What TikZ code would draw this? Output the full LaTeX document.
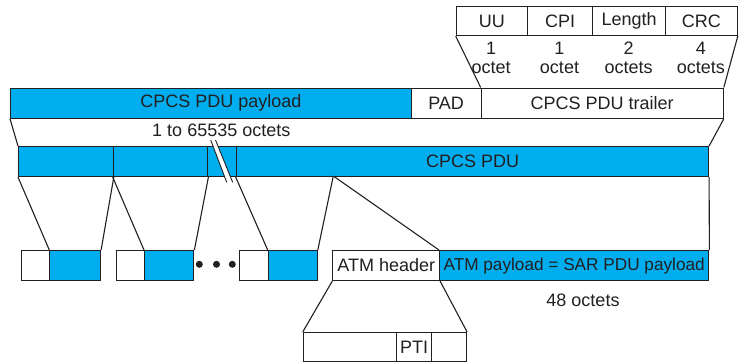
\documentclass[tikz,border=0pt]{standalone}
\usepackage{fontspec}
\setmainfont{Liberation Sans}
\definecolor{ink}{HTML}{231F20}
\definecolor{cpcs}{HTML}{00AEEF}
\tikzset{
  fld/.style={draw=ink, line width=1.1pt, inner sep=0pt, anchor=north west, text=ink},
  blu/.style={fld, fill=cpcs},
  wht/.style={fld, fill=white},
  lbl/.style={text=ink, inner sep=0pt},
  link/.style={draw=ink, line width=1.1pt},
  dot/.style={circle, fill=ink, inner sep=0pt, minimum size=7pt}
}
\newcommand{\fieldbox}[6]{% style, name, x, y, width, height
  \node[#1, minimum width=#5pt, minimum height=#6pt] (#2) at (#3,#4) {};}
\begin{document}
\begin{tikzpicture}[x=1pt, y=-1pt, font=\fontsize{18}{20}\selectfont]
\useasboundingbox (0,0) rectangle (740,362);

% trailer fields
\fieldbox{wht}{uu}{455.7}{6}{71}{29}
\fieldbox{wht}{cpi}{526.7}{6}{65.6}{29}
\fieldbox{wht}{len}{592.3}{6}{72.7}{29}
\fieldbox{wht}{crc}{665}{6}{71.7}{29}
\node[lbl] at (uu.center) {UU};
\node[lbl] at (cpi.center) {CPI};
\node[lbl] at (len.center) {Length};
\node[lbl] at (crc.center) {CRC};
\node[lbl] (o1) at (491.2,48.5) {1};
\node[lbl] (o2) at (559.5,48.5) {1};
\node[lbl] (o3) at (628.7,48.5) {2};
\node[lbl] (o4) at (700.9,48.5) {4};
\node[lbl] at (491.2,67.5) {octet};
\node[lbl] at (559.5,67.5) {octet};
\node[lbl] at (628.7,67.5) {octets};
\node[lbl] at (700.9,67.5) {octets};

% CPCS PDU: payload, padding, trailer
\fieldbox{blu}{pl}{10}{87.5}{400.5}{30.2}
\fieldbox{wht}{pad}{410.5}{87.5}{70.2}{30.2}
\fieldbox{wht}{trl}{480.7}{87.5}{242}{30.2}
\node[lbl] at (221,102.6) {CPCS PDU payload};
\node[lbl] at (pad.center) {PAD};
\node[lbl] at (trl.center) {CPCS PDU trailer};
\node[lbl] (plen) at (221.3,130.7) {1 to 65535 octets};

\draw[link] (uu.south west) -- (trl.north west);
\draw[link] (crc.south east) -- (trl.north east);

% CPCS PDU cut into segments
\fieldbox{blu}{s1}{18}{146}{94.7}{30}
\fieldbox{blu}{s2}{112.7}{146}{94.6}{30}
\fieldbox{blu}{s3}{207.3}{146}{28.4}{30}
\fieldbox{blu}{s4}{235.7}{146}{472.3}{30}
\node[lbl] at (472.7,161) {CPCS PDU};

\draw[link] (pl.south west) -- (s1.north west);
\draw[link] (trl.south east) -- (s4.north east);

% break mark
\coordinate (ba) at (210.7,140);
\coordinate (bb) at (215.5,140);
\coordinate (bc) at (232.7,182.3);
\coordinate (bd) at (226.7,182.3);
\fill[white] (ba) -- (bb) -- (bc) -- (bd) -- cycle;
\draw[link, line width=0.9pt] (ba) -- (bd);
\draw[link, line width=0.9pt] (bb) -- (bc);

% ATM cells
\fieldbox{wht}{h1}{20.7}{250}{28.6}{30}
\fieldbox{blu}{c1}{49.3}{250}{50.7}{30}
\fieldbox{wht}{h2}{115.7}{250}{28.3}{30}
\fieldbox{blu}{c2}{144}{250}{49.3}{30}
\fieldbox{wht}{h3}{239.3}{250}{28.4}{30}
\fieldbox{blu}{c3}{267.7}{250}{49}{30}
\fieldbox{wht}{hdr}{332.3}{250}{106.7}{30}
\fieldbox{blu}{pay}{439}{250}{269.3}{30}
\node[lbl] at (hdr.center) {ATM header};
\node[lbl, font=\fontsize{17.2}{20}\selectfont] at (pay.center) {ATM payload = SAR PDU payload};
\node[lbl] (p48) at (583,300.5) {48 octets};

\node[dot] (d1) at (199.3,264.3) {};
\node[dot] (d2) at (216.5,264.3) {};
\node[dot] (d3) at (232.3,264.3) {};

\coordinate (split) at (333.3,176);
\draw[link] (s1.south west) -- (c1.north west);
\draw[link] (s1.south east) -- (c1.north east);
\draw[link] (s2.south west) -- (c2.north west);
\draw[link] (s2.south east) -- (c2.north east);
\draw[link] (s4.south west) -- (c3.north west);
\draw[link] (split) -- (c3.north east);
\draw[link] (split) -- (pay.north west);
\draw[link] (s4.south east) -- (pay.north east);

% ATM header fields
\fieldbox{wht}{f1}{302.7}{332}{93.3}{29}
\fieldbox{wht}{pti}{396}{332}{35}{29}
\fieldbox{wht}{f3}{431}{332}{35}{29}
\node[lbl] at (pti.center) {PTI};
\draw[link] (hdr.south west) -- (f1.north west);
\draw[link] (hdr.south east) -- (f3.north east);
\end{tikzpicture}
\end{document}
